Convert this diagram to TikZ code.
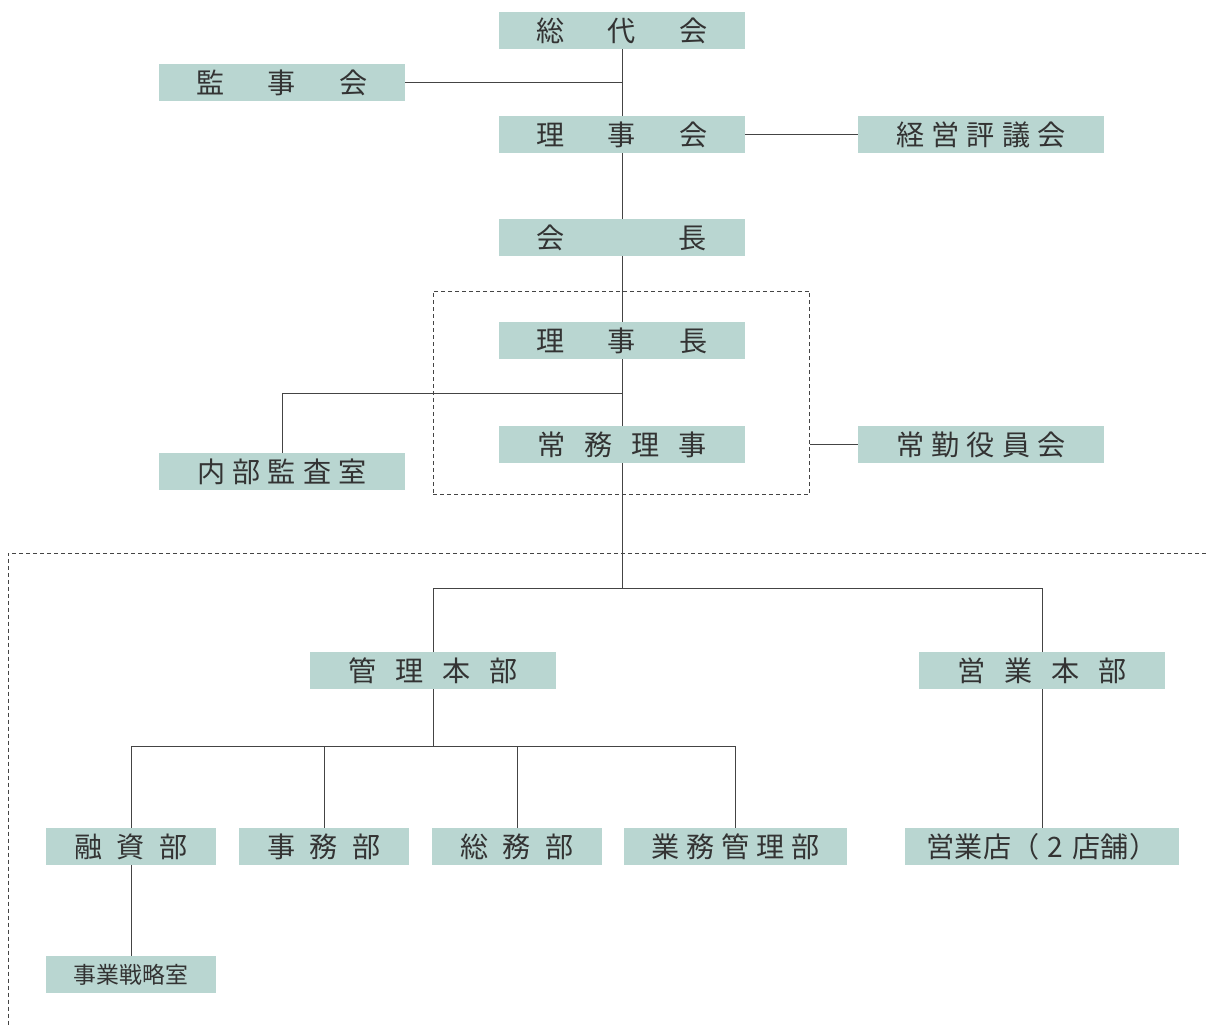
\documentclass[tikz,border=0pt]{standalone}
\usepackage{fontspec}
\setmainfont{Noto Sans CJK JP}
\usepackage{tikz}
\usetikzlibrary{positioning}

\definecolor{boxfill}{HTML}{B9D6D1}
\definecolor{boxtext}{HTML}{333333}
\definecolor{linegray}{HTML}{444444}

% gaps between spread characters
\newcommand{\gw}{\hspace{0.86cm}}
\newcommand{\gm}{\hspace{0.38cm}}
\newcommand{\gs}{\hspace{0.28cm}}
\newcommand{\gn}{\hspace{0.14cm}}

\begin{document}
\begin{tikzpicture}[
  x=0.02cm, y=-0.02cm,
  every node/.style={font=\fontsize{16}{18}\selectfont, text=boxtext, inner sep=0pt},
  unit/.style={fill=boxfill, minimum width=4.92cm, minimum height=0.74cm},
  dept/.style={fill=boxfill, minimum width=3.4cm, minimum height=0.74cm},
  link/.style={draw=linegray, line width=0.55pt},
  frame/.style={draw=linegray, line width=0.55pt, dash pattern=on 0.08cm off 0.06cm}
]
\useasboundingbox (0,0) rectangle (1206,1025);

% top level
\node[unit] (sodaikai) at (622,30.5) {総\gw 代\gw 会};
\node[unit] (kanjikai) at (282,82.5) {監\gw 事\gw 会};
\node[unit] (rijikai) at (622,134.5) {理\gw 事\gw 会};
\node[unit] (hyogikai) at (981,134.5) {経\gn 営\gn 評\gn 議\gn 会};
\node[unit] (kaicho) at (622,237.5) {会\hspace{2.28cm}長};

% executives
\node[frame, minimum width=7.54cm, minimum height=4.06cm] (yakuin) at (621.5,392.5) {};
\node[unit] (rijicho) at (622,340.5) {理\gw 事\gw 長};
\node[unit] (jomu) at (622,444.5) {常\gm 務\gm 理\gm 事};
\node[unit] (naibu) at (282,471.5) {内\gn 部\gn 監\gn 査\gn 室};
\node[unit] (jokin) at (981,444.5) {常\gn 勤\gn 役\gn 員\gn 会};

% headquarters
\node[unit] (kanri) at (433,670.5) {管\gm 理\gm 本\gm 部};
\node[unit] (eigyo) at (1042,670.5) {営\gm 業\gm 本\gm 部};

% departments
\node[dept] (yushi) at (131,846.5) {融\gs 資\gs 部};
\node[dept] (jimu) at (324,846.5) {事\gs 務\gs 部};
\node[dept] (somu) at (517,846.5) {総\gs 務\gs 部};
\node[fill=boxfill, minimum width=4.46cm, minimum height=0.74cm] (gyomu) at (735.5,846.5) {業\gn 務\gn 管\gn 理\gn 部};
\node[fill=boxfill, minimum width=5.48cm, minimum height=0.74cm] (eigyoten) at (1042,846.5) {営業店（\hspace{0.16cm}2\hspace{0.2cm}店舗）};
\node[dept, font=\fontsize{13}{15}\selectfont] (senryaku) at (131,974.5) {事業戦略室};

% junctions
\coordinate (naibuj) at (622,393);
\coordinate (bunki) at (622,588);
\coordinate (kanrij) at (433,746);

% connectors
\draw[link] (sodaikai) -- (rijikai);
\draw[link] (kanjikai.east) -- (kanjikai.east -| sodaikai.south);
\draw[link] (rijikai) -- (hyogikai);
\draw[link] (rijikai) -- (kaicho);
\draw[link] (kaicho) -- (rijicho);
\draw[link] (rijicho) -- (jomu);
\draw[link] (naibu) |- (naibuj);
\draw[link] (yakuin.east |- jokin.west) -- (jokin);
\draw[link] (jomu) -- (bunki);
\draw[link] (kanri) |- (bunki) -| (eigyo);
\draw[link] (kanri) -- (kanrij);
\draw[link] (yushi) |- (kanrij) -| (gyomu);
\draw[link] (jimu) -- (jimu |- kanrij);
\draw[link] (somu) -- (somu |- kanrij);
\draw[link] (eigyo) -- (eigyoten);
\draw[link] (yushi) -- (senryaku);

% branch area
\draw[frame] (1206,553) -- (8,553) -- (8,1025);
\end{tikzpicture}
\end{document}
